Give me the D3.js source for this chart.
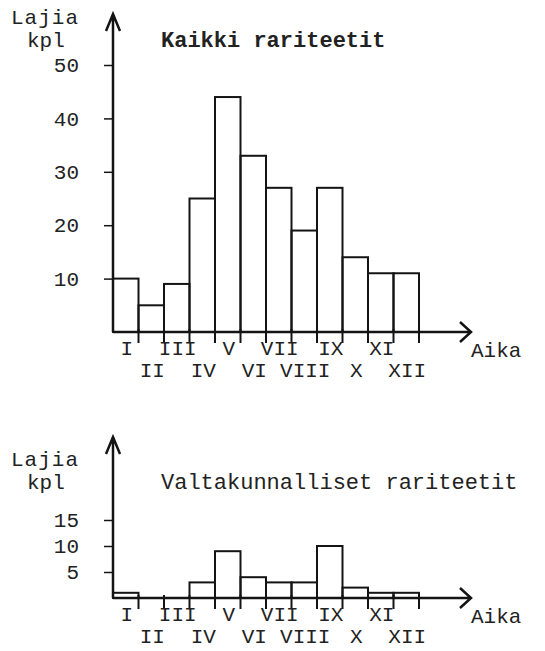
<!DOCTYPE html>
<html>
<head>
<meta charset="utf-8">
<script src="https://cdn.jsdelivr.net/npm/d3@7"></script>
<style>
  body { margin: 0; background: #fff; }
  svg text { font-family: "Liberation Mono", "DejaVu Sans Mono", monospace; fill: #222; }
</style>
</head>
<body>
<svg width="545" height="651"></svg>
<script>
let months = ['I','II','III','IV','V','VI','VII','VIII','IX','X','XI','XII']
let allValues = [10, 5, 9, 25, 44, 33, 27, 19, 27, 14, 11, 11]
let nationalValues = [1, 0, 0, 3, 9, 4, 3, 3, 10, 2, 1, 1]
let allTicks = [10, 20, 30, 40, 50]
let nationalTicks = [5, 10, 15]

var svg = d3.select("svg")
var ink = '#141414'

let x = d3.scaleBand().domain(months).range([113, 419]).padding(0)

let drawChart = (opts) => {
  let g = svg.append('g')
  let y = d3.scaleLinear().domain([0, opts.max]).range([opts.base, opts.top])

  // bars
  g.selectAll('rect')
    .data(opts.values)
    .enter()
    .append('rect')
    .attr('x', (d, i) => x(months[i]))
    .attr('y', (d) => y(d))
    .attr('width', x.bandwidth())
    .attr('height', (d) => y(0) - y(d))
    .attr('fill', 'none')
    .attr('stroke', ink)
    .attr('stroke-width', 2)

  // tick marks below baseline at month boundaries
  g.selectAll('line.mt')
    .data(months)
    .enter()
    .append('line')
    .attr('class', 'mt')
    .attr('x1', (m) => x(m) + x.bandwidth())
    .attr('x2', (m) => x(m) + x.bandwidth())
    .attr('y1', y(0) - 3)
    .attr('y2', y(0) + 11)
    .attr('stroke', ink)
    .attr('stroke-width', 2)

  // y axis ticks
  let yAxis = d3.axisLeft(y).tickValues(opts.ticks).tickSize(9).tickPadding(25)
  let ax = g.append('g').attr('transform', 'translate(113,0)').call(yAxis)
  ax.select('.domain').remove()
  ax.selectAll('line').attr('stroke', ink).attr('stroke-width', 1.5)
  ax.selectAll('text').attr('font-size', 21).attr('font-family', '"Liberation Mono", monospace').attr('fill', '#222')

  // axes with arrows
  g.append('path')
    .attr('d', `M113,${y(0)} V${opts.arrowTop} M106,${opts.arrowTop + 17} L113,${opts.arrowTop} L120,${opts.arrowTop + 17}`)
    .attr('fill', 'none').attr('stroke', ink).attr('stroke-width', 2.5)
  g.append('path')
    .attr('d', `M113,${y(0)} H471 M460,${y(0) - 10} L471,${y(0)} L460,${y(0) + 10}`)
    .attr('fill', 'none').attr('stroke', ink).attr('stroke-width', 2.5)

  // month labels, alternating rows
  g.selectAll('text.m')
    .data(months)
    .enter()
    .append('text')
    .attr('class', 'm')
    .attr('x', (m) => x(m) + x.bandwidth() / 2 + 1)
    .attr('y', (m, i) => y(0) + (i % 2 === 0 ? 23 : 45))
    .attr('text-anchor', 'middle')
    .attr('font-size', 21)
    .text((m) => m)

  g.append('text').attr('x', 471).attr('y', y(0) + 25).attr('font-size', 21).text('Aika')

  g.append('text').attr('x', 11).attr('y', opts.labelY).attr('font-size', 21).attr('letter-spacing', 1).text('Lajia')
  g.append('text').attr('x', 27).attr('y', opts.labelY + 23).attr('font-size', 21).text('kpl')

  g.append('text')
    .attr('x', 161).attr('y', opts.titleY)
    .attr('font-size', 22)
    .attr('font-weight', opts.bold ? 'bold' : 'normal')
    .text(opts.title)
}

drawChart({ values: allValues, max: 50, base: 332, top: 65, ticks: allTicks, arrowTop: 14,
  labelY: 24, titleY: 47, title: 'Kaikki rariteetit', bold: true })

drawChart({ values: nationalValues, max: 15, base: 598, top: 520, ticks: nationalTicks, arrowTop: 437,
  labelY: 466, titleY: 489, title: 'Valtakunnalliset rariteetit', bold: false })
</script>
</body>
</html>
